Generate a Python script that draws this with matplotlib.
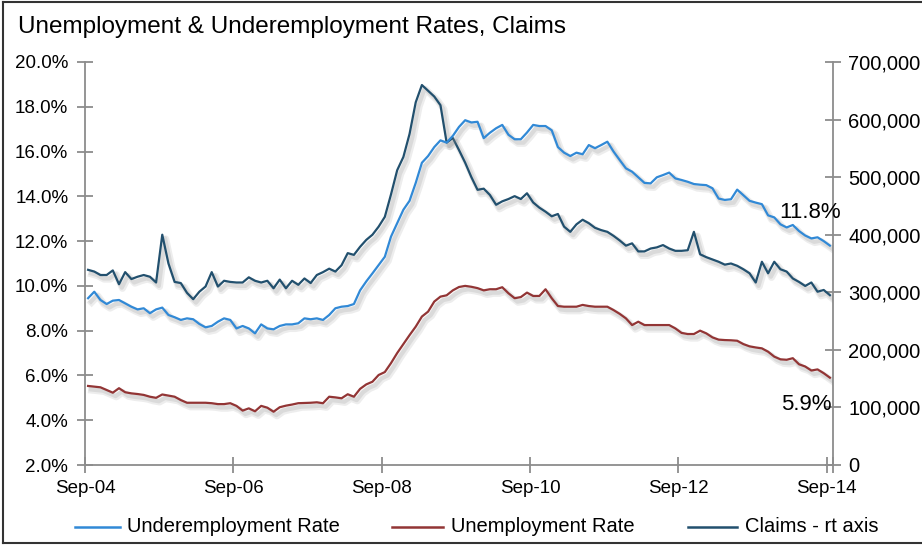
import matplotlib
matplotlib.use('Agg')
import matplotlib.pyplot as plt
import matplotlib.patheffects as pe
from matplotlib.lines import Line2D
from matplotlib.ticker import FuncFormatter

# monthly, Sep-04 .. Sep-14 (121 points)
underemp = [9.45, 9.74, 9.37, 9.19, 9.34, 9.37, 9.22, 9.07, 8.95, 9.0,
            8.78, 8.95, 9.03, 8.7, 8.6, 8.48, 8.55, 8.51, 8.3, 8.15,
            8.21, 8.4, 8.55, 8.48, 8.1, 8.21, 8.1, 7.88, 8.28, 8.1,
            8.06, 8.21, 8.28, 8.28, 8.33, 8.55, 8.51, 8.55, 8.48, 8.7,
            9.0, 9.07, 9.1, 9.19, 9.8, 10.2, 10.56, 10.93, 11.3, 12.2,
            12.8, 13.4, 13.8, 14.6, 15.5, 15.8, 16.2, 16.5, 16.4, 16.7,
            17.1, 17.4, 17.3, 17.33, 16.6, 16.84, 17.04, 17.19, 16.75, 16.55,
            16.55, 16.85, 17.19, 17.14, 17.14, 16.95, 16.2, 15.95, 15.8, 15.95,
            15.88, 16.29, 16.15, 16.29, 16.44, 16.0, 15.62, 15.25, 15.1, 14.85,
            14.6, 14.58, 14.85, 14.95, 15.06, 14.8, 14.73, 14.65, 14.55, 14.52,
            14.5, 14.36, 13.9, 13.84, 13.87, 14.3, 14.05, 13.8, 13.72, 13.65,
            13.15, 13.06, 12.75, 12.61, 12.72, 12.45, 12.25, 12.12, 12.17, 12.0,
            11.8]

unemp = [5.53, 5.5, 5.47, 5.35, 5.23, 5.43, 5.25, 5.2, 5.17, 5.13,
         5.05, 5.0, 5.15, 5.1, 5.05, 4.9, 4.78, 4.78, 4.78, 4.78,
         4.76, 4.72, 4.72, 4.76, 4.64, 4.43, 4.53, 4.4, 4.64, 4.56,
         4.38, 4.58, 4.65, 4.7, 4.76, 4.77, 4.78, 4.8, 4.76, 5.05,
         5.02, 4.98, 5.16, 5.05, 5.4, 5.6, 5.72, 6.02, 6.15, 6.55,
         7.0, 7.4, 7.8, 8.18, 8.63, 8.85, 9.3, 9.52, 9.58, 9.8,
         9.95, 10.0, 9.96, 9.9, 9.8, 9.85, 9.85, 9.94, 9.67, 9.45,
         9.5, 9.7, 9.55, 9.55, 9.85, 9.45, 9.1, 9.07, 9.07, 9.07,
         9.15, 9.1, 9.07, 9.07, 9.07, 8.92, 8.75, 8.55, 8.25, 8.4,
         8.25, 8.25, 8.25, 8.25, 8.25, 8.1, 7.9, 7.85, 7.85, 8.0,
         7.88, 7.7, 7.6, 7.58, 7.57, 7.55, 7.4, 7.3, 7.25, 7.21,
         7.06, 6.84, 6.72, 6.7, 6.77, 6.5, 6.4, 6.22, 6.27, 6.1,
         5.9]

claims = [339, 336, 330, 330, 338, 314, 335, 323, 327, 330,
          327, 317, 400, 350, 318, 316, 299, 288, 301, 310,
          335, 310, 320, 318, 317, 317, 326, 320, 317, 320,
          307, 322, 307, 320, 313, 324, 316, 330, 335, 341,
          336, 347, 368, 365, 379, 391, 400, 414, 431, 470,
          512, 535, 575, 630, 660, 650, 640, 625, 560, 568,
          547, 525, 500, 478, 480, 469, 452, 458, 462, 467,
          462, 472, 456, 447, 440, 432, 436, 414, 405, 418,
          426, 420, 412, 408, 405, 398, 390, 381, 385, 371,
          371, 376, 378, 382, 376, 372, 372, 373, 405, 366,
          361, 357, 353, 348, 350, 346, 340, 333, 317, 353,
          333, 353, 340, 336, 324, 318, 311, 317, 301, 304,
          295]
claims = [c * 1000 for c in claims]

tick_labels = ['Sep-04', 'Sep-06', 'Sep-08', 'Sep-10', 'Sep-12', 'Sep-14']
names = ['Underemployment Rate', 'Unemployment Rate', 'Claims - rt axis']

c_under = '#3189d6'
c_unemp = '#923535'
c_claims = '#22506e'
grey = '#8c8c8c'

plt.rcParams['font.family'] = ['Liberation Sans', 'DejaVu Sans']

fig = plt.figure(figsize=(9.22, 5.45), dpi=100)
ax = fig.add_axes([85 / 922, 1 - 465 / 545, 748 / 922, 403 / 545])
ax2 = ax.twinx()

x = [i + 0.5 for i in range(len(underemp))]

shadow = [pe.SimpleLineShadow(offset=(2.5, -3), shadow_color='#888888', alpha=0.15, linewidth=5),
          pe.SimpleLineShadow(offset=(2, -2.5), shadow_color='#888888', alpha=0.18, linewidth=3),
          pe.Normal()]

ax2.plot(x, claims, color=c_claims, lw=1.6, path_effects=shadow, zorder=3)
ax.plot(x, underemp, color=c_under, lw=1.6, path_effects=shadow, zorder=3)
ax.plot(x, unemp, color=c_unemp, lw=1.6, path_effects=shadow, zorder=3)
ax.set_zorder(ax2.get_zorder() + 1)
ax.patch.set_visible(False)

ax.set_xlim(0, 121)
ax.set_ylim(2, 20)
ax.set_yticks([2 + 2 * k for k in range(10)])
ax.yaxis.set_major_formatter(FuncFormatter(lambda v, p: f'{v:.1f}%'))
ax2.set_ylim(0, 700000)
ax2.set_yticks([100000 * k for k in range(8)])
ax2.yaxis.set_major_formatter(FuncFormatter(lambda v, p: f'{int(v):,}'))

ax.set_xticks([0, 24, 48, 72, 96, 120, 121])
ax.set_xticklabels(tick_labels + [''])

for a in (ax, ax2):
    for s in a.spines.values():
        s.set_color(grey)
        s.set_linewidth(1.3)
    a.spines['top'].set_visible(False)
ax.spines['right'].set_visible(False)
ax2.spines['left'].set_visible(False)
ax2.spines['bottom'].set_visible(False)

ax.tick_params(axis='y', direction='inout', length=12, color=grey, width=1.3,
               labelsize=13.5, pad=6)
ax.tick_params(axis='x', direction='inout', length=12, color=grey, width=1.3,
               labelsize=13.5, pad=5)
ax2.tick_params(axis='y', direction='inout', length=12, color=grey, width=1.3,
                labelsize=14.5, pad=5)

ax.text(122.2, 13.3, '11.8%', ha='right', va='center', fontsize=16)
ax.text(120.8, 4.68, '5.9%', ha='right', va='center', fontsize=16)

fig.text(18 / 922, 1 - 27 / 545, 'Unemployment & Underemployment Rates, Claims',
         fontsize=17.5, ha='left', va='center')

# legend drawn by hand to match spacing
leg_y = 1 - 527 / 545
leg_pos = [(75, 120, 127), (392, 443, 451), (688, 737, 745)]
for (x0, x1, xt), col, name in zip(leg_pos, [c_under, c_unemp, c_claims], names):
    fig.add_artist(Line2D([x0 / 922, x1 / 922], [leg_y, leg_y], color=col, lw=1.8,
                          transform=fig.transFigure))
    fig.text(xt / 922, leg_y, name, fontsize=14.5, ha='left', va='center')

# outer frame (left, top, bottom)
fr = dict(color='#333333', lw=1.5, transform=fig.transFigure)
fig.add_artist(Line2D([3 / 922, 3 / 922], [2 / 545, 1 - 2 / 545], **fr))
fig.add_artist(Line2D([3 / 922, 1], [1 - 2 / 545, 1 - 2 / 545], **fr))
fig.add_artist(Line2D([3 / 922, 1], [2 / 545, 2 / 545], **fr))

fig.savefig('out.png', dpi=100)
